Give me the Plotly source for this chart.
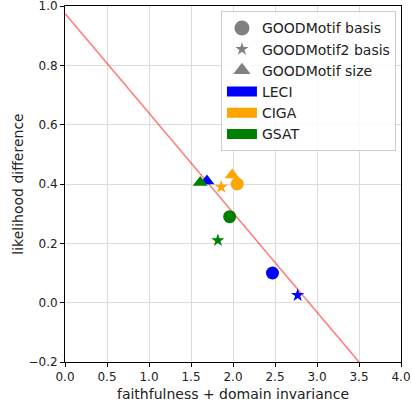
import plotly.graph_objects as go

methods = ["LECI", "CIGA", "GSAT"]
method_colors = ["#0000ff", "#ffa500", "#008000"]
datasets = ["GOODMotif basis", "GOODMotif2 basis", "GOODMotif size"]
dataset_symbols = ["circle", "star", "triangle-up"]

# x: faithfulness + domain invariance, y: likelihood difference
x_vals = {
    "LECI": [2.47, 2.77, 1.69],
    "CIGA": [2.05, 1.86, 1.99],
    "GSAT": [1.96, 1.82, 1.61],
}
y_vals = {
    "LECI": [0.10, 0.025, 0.41],
    "CIGA": [0.40, 0.39, 0.43],
    "GSAT": [0.29, 0.21, 0.405],
}

x_ticks = [0.0, 0.5, 1.0, 1.5, 2.0, 2.5, 3.0, 3.5, 4.0]
y_ticks = [-0.2, 0.0, 0.2, 0.4, 0.6, 0.8, 1.0]
y_tick_labels = ["\u22120.2", "0.0", "0.2", "0.4", "0.6", "0.8", "1.0"]
x_tick_labels = ["0.0", "0.5", "1.0", "1.5", "2.0", "2.5", "3.0", "3.5", "4.0"]

fit_x = [0.0, 3.5]
fit_y = [0.975, -0.2]

fig = go.Figure()

fig.add_trace(go.Scatter(x=fit_x, y=fit_y, mode="lines",
                         line=dict(color="rgba(255,0,0,0.5)", width=1.6),
                         showlegend=False, hoverinfo="skip"))

sizes = {"circle": 13, "star": 10, "triangle-up": 13}
for m, c in zip(methods, method_colors):
    for i, (d, s) in enumerate(zip(datasets, dataset_symbols)):
        fig.add_trace(go.Scatter(x=[x_vals[m][i]], y=[y_vals[m][i]], mode="markers",
                                 marker=dict(symbol=s, color=c, size=sizes[s], line=dict(width=0)),
                                 showlegend=False, name=f"{m} {d}"))

leg_sizes = {"circle": 15, "star": 10, "triangle-up": 15}
for d, s in zip(datasets, dataset_symbols):
    fig.add_trace(go.Scatter(x=[None], y=[None], mode="markers", name=d,
                             marker=dict(symbol=s, color="gray", size=leg_sizes[s], line=dict(width=0))))
for m, c in zip(methods, method_colors):
    fig.add_trace(go.Scatter(x=[None], y=[None], mode="lines", name=m,
                             line=dict(color=c, width=10)))

axis_common = dict(showline=True, linecolor="black", linewidth=1, mirror=True,
                   ticks="outside", ticklen=4, tickcolor="black", tickwidth=1,
                   showgrid=True, gridcolor="#dcdcdc", gridwidth=1, zeroline=False,
                   tickfont=dict(size=12, color="#222"), tickmode="array", automargin=False,
                   ticklabeloverflow="allow")

fig.update_layout(
    width=412, height=402,
    margin=dict(l=65, r=11, t=6, b=40),
    paper_bgcolor="white", plot_bgcolor="white",
    font=dict(family="DejaVu Sans", size=14, color="#222"),
    xaxis=dict(range=[0, 4], tickvals=x_ticks, ticktext=x_tick_labels,
               title=dict(text="faithfulness + domain invariance", standoff=6, font=dict(size=14)), **axis_common),
    yaxis=dict(range=[-0.2, 1.0], tickvals=y_ticks, ticktext=y_tick_labels,
               title=dict(text="likelihood difference", standoff=1, font=dict(size=14)), **axis_common),
    legend=dict(x=0.985, y=0.985, xanchor="right", yanchor="top",
                bgcolor="rgba(255,255,255,0.85)", bordercolor="#cccccc", borderwidth=1,
                font=dict(size=14), itemwidth=30),
)

fig.write_html("out.html")
